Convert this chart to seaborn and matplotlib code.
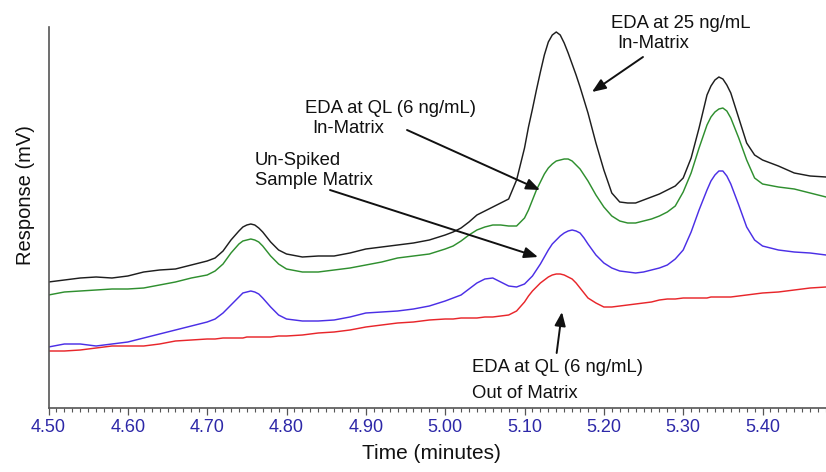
import numpy as np
import pandas as pd
import matplotlib
matplotlib.use("Agg")
import matplotlib.pyplot as plt
from matplotlib.ticker import MultipleLocator, FormatStrFormatter
import seaborn as sns

# ---- data (time in minutes, response in arbitrary mV units) ----
time_min = [4.50, 4.52, 4.54, 4.56, 4.58, 4.60, 4.62, 4.64, 4.66, 4.68,
            4.70, 4.71, 4.72, 4.73, 4.74, 4.745, 4.75, 4.755, 4.76, 4.765, 4.77, 4.78, 4.79,
            4.80, 4.82, 4.84, 4.86, 4.88, 4.90, 4.92, 4.94, 4.96, 4.98,
            5.00, 5.01, 5.02, 5.03, 5.04, 5.05, 5.06, 5.07, 5.08, 5.09,
            5.10, 5.105, 5.11, 5.115, 5.12, 5.125, 5.13, 5.135, 5.14, 5.145,
            5.15, 5.155, 5.16, 5.165, 5.17, 5.175, 5.18, 5.19, 5.20, 5.21,
            5.22, 5.23, 5.24, 5.25, 5.26, 5.27, 5.28, 5.29, 5.30, 5.31,
            5.32, 5.33, 5.335, 5.34, 5.345, 5.35, 5.355, 5.36, 5.37, 5.38, 5.39, 5.40, 5.42,
            5.44, 5.46, 5.48]

eda_25_in_matrix = [126, 128, 130, 131, 130, 132, 136, 138, 139, 143,
                    147, 150, 157, 168, 177, 181, 183, 184, 183, 180, 176, 166, 158,
                    154, 151, 152, 152, 155, 159, 161, 163, 165, 168,
                    173, 176, 180, 186, 193, 197, 201, 205, 209, 228,
                    260, 281, 299, 318, 336, 353, 366, 373, 376, 373,
                    365, 355, 344, 333, 321, 308, 295, 265, 238, 215,
                    206, 205, 205, 208, 211, 214, 218, 222, 230, 250,
                    280, 313, 322, 328, 331, 329, 323, 315, 290, 265, 253, 248, 242,
                    235, 232, 231]

eda_ql_in_matrix = [113, 116, 117, 118, 119, 119, 120, 123, 126, 130,
                    133, 137, 144, 155, 164, 167, 168, 169, 168, 166, 162, 152, 144,
                    139, 136, 136, 138, 140, 143, 146, 150, 152, 154,
                    159, 162, 167, 173, 178, 181, 183, 183, 182, 182,
                    190, 198, 208, 218, 226, 234, 240, 244, 247, 248,
                    249, 249, 247, 243, 239, 233, 227, 213, 201, 192,
                    187, 185, 185, 187, 189, 192, 196, 202, 216, 235,
                    260, 283, 291, 296, 299, 300, 297, 290, 270, 248, 230, 224, 221,
                    219, 215, 211]

unspiked_matrix = [61, 64, 64, 62, 64, 66, 70, 74, 78, 82,
                   86, 89, 95, 103, 111, 115, 116, 117, 116, 114, 110, 101, 93,
                   89, 87, 87, 88, 91, 95, 96, 97, 99, 102,
                   107, 110, 113, 119, 125, 129, 130, 126, 122, 121,
                   124, 128, 132, 138, 144, 151, 158, 164, 168, 172,
                   175, 177, 178, 177, 175, 170, 164, 153, 145, 140,
                   137, 136, 135, 136, 138, 140, 143, 149, 158, 176,
                   198, 218, 227, 233, 237, 237, 232, 224, 203, 181, 168, 162, 158,
                   156, 155, 153]

eda_ql_out_matrix = [57, 57, 58, 60, 62, 62, 62, 64, 67, 68,
                     69, 69, 70, 70, 70, 70, 71, 71, 71, 71, 71, 71, 72,
                     72, 73, 75, 76, 78, 81, 83, 85, 86, 88,
                     89, 89, 90, 90, 90, 91, 91, 92, 93, 97,
                     106, 112, 117, 121, 125, 128, 131, 133, 134, 134,
                     133, 131, 129, 125, 120, 115, 110, 105, 101, 101,
                     102, 103, 104, 105, 106, 108, 109, 109, 110, 110,
                     110, 110, 111, 111, 111, 111, 111, 111, 112, 113, 114, 115, 116,
                     118, 120, 121]

series_names = ["EDA 25 ng/mL in-matrix", "EDA QL in-matrix", "Un-spiked matrix", "EDA QL out of matrix"]
series_colors = ["#1e1e1e", "#2f8f2f", "#4b2fe6", "#e8262b"]

x_ticks = [4.50, 4.60, 4.70, 4.80, 4.90, 5.00, 5.10, 5.20, 5.30, 5.40]

frames = []
for name, r in zip(series_names,
                   [eda_25_in_matrix, eda_ql_in_matrix, unspiked_matrix, eda_ql_out_matrix]):
    frames.append(pd.DataFrame({"time": time_min, "response": r, "series": name}))
df = pd.concat(frames, ignore_index=True)

sns.set_theme(style="white")
plt.rcParams["font.family"] = ["Liberation Sans", "DejaVu Sans"]

fig = plt.figure(figsize=(8.26, 4.72), dpi=100)
ax = fig.add_axes([48.5 / 826, 64 / 472, (826 - 48.5) / 826, 381 / 472])

sns.lineplot(data=df, x="time", y="response", hue="series", hue_order=series_names,
             palette=dict(zip(series_names, series_colors)), estimator=None,
             linewidth=1.05, legend=False, ax=ax)
for ln in ax.get_lines():
    ln.set_solid_joinstyle("round")

ax.set_xlim(4.50, 5.48)
ax.set_ylim(0, 381)
ax.set_xticks(x_ticks)
ax.xaxis.set_major_formatter(FormatStrFormatter("%.2f"))
ax.xaxis.set_minor_locator(MultipleLocator(0.01))
ax.set_yticks([])

for s in ["top", "right"]:
    ax.spines[s].set_visible(False)
for s in ["left", "bottom"]:
    ax.spines[s].set_color("#555555")
    ax.spines[s].set_linewidth(1.2)

ax.tick_params(axis="x", which="major", direction="out", length=5, width=0.9,
               color="#555555", labelsize=13, labelcolor="#2d28a8", pad=3, bottom=True)
ax.tick_params(axis="x", which="minor", direction="out", length=3, width=0.8,
               color="#555555", bottom=True)

ax.set_xlabel("Time (minutes)", fontsize=15, color="#111111")
ax.xaxis.set_label_coords(0.493, -0.095)
ax.set_ylabel("Response (mV)", fontsize=14.5, color="#111111")
ax.yaxis.set_label_coords(-0.018, 0.56)

# ---- annotations ----
txt_kw = dict(fontsize=13.3, color="#111111", ha="left", va="baseline")
ax.text(5.2086, 379.7, "EDA at 25 ng/mL", **txt_kw)
ax.text(5.2174, 360.0, "In-Matrix", **txt_kw)
ax.text(4.8233, 294.7, "EDA at QL (6 ng/mL)", **txt_kw)
ax.text(4.8330, 275.3, "In-Matrix", **txt_kw)
ax.text(4.7603, 243.0, "Un-Spiked", **txt_kw)
ax.text(4.7603, 223.0, "Sample Matrix", **txt_kw)
ax.text(5.0334, 36.0, "EDA at QL (6 ng/mL)", **txt_kw)
ax.text(5.0334, 10.0, "Out of Matrix", **txt_kw)

arrow_kw = dict(arrowstyle="-|>,head_length=0.55,head_width=0.22", color="#111111",
                lw=1.4, shrinkA=0, shrinkB=0, mutation_scale=15)
ax.annotate("", xy=(5.1850, 316), xytext=(5.2493, 351), arrowprops=arrow_kw)
ax.annotate("", xy=(5.1195, 218), xytext=(4.9519, 278), arrowprops=arrow_kw)
ax.annotate("", xy=(5.1170, 151), xytext=(4.8548, 218), arrowprops=arrow_kw)
ax.annotate("", xy=(5.1472, 96), xytext=(5.1405, 55), arrowprops=arrow_kw)

fig.savefig("out.png", dpi=100)
